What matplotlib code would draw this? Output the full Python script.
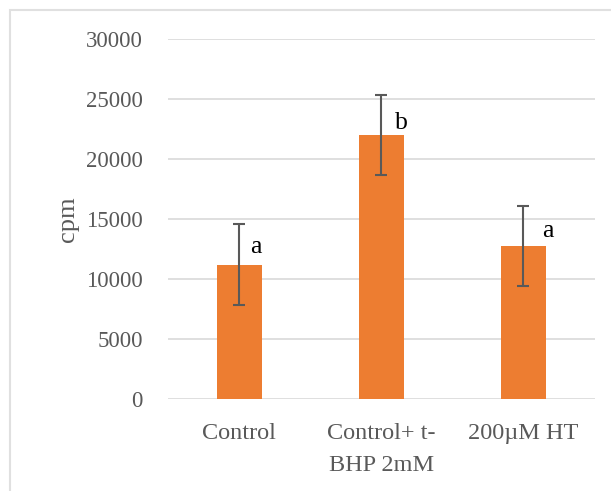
import matplotlib.pyplot as plt
from matplotlib.patches import Rectangle

groups = ["Control", "Control+ t-\nBHP 2mM", "200\u00b5M HT"]
cpm_mean = [11180, 22000, 12750]
cpm_err = [3380, 3370, 3370]
letters = ["a", "b", "a"]
letter_y = [12170, 22500, 13500]
yticks = [0, 5000, 10000, 15000, 20000, 25000, 30000]

plt.rcParams["font.family"] = ["Liberation Serif", "DejaVu Serif"]

fig = plt.figure(figsize=(6.11, 4.91), dpi=100)
W, H = 611, 491
ax = fig.add_axes([168 / W, 1 - 399 / H, (594.5 - 168) / W, (399 - 39) / H])

x = range(len(groups))
ax.bar(x, cpm_mean, width=0.317, color="#ED7D31", zorder=3)
ax.errorbar(x, cpm_mean, yerr=cpm_err, fmt="none", ecolor="#595959",
            elinewidth=1.5, capsize=4.2, capthick=1.5, zorder=4)

# Buchstaben rechts neben den Fehlerbalken
dx = [0.08, 0.095, 0.13]
for i, (lab, yy) in enumerate(zip(letters, letter_y)):
    ax.text(i + dx[i], yy, lab, fontsize=18.5, color="black",
            ha="left", va="baseline", zorder=5)

ax.set_xlim(-0.5, 2.5)
ax.set_ylim(0, 30000)
ax.set_yticks(yticks)
ax.set_yticklabels([str(t) for t in yticks], fontsize=16.5)
ax.set_xticks(list(x))
ax.set_xticklabels(groups, fontsize=17.5, linespacing=1.7)
ax.yaxis.grid(True, color="#D9D9D9", linewidth=1.2, zorder=0)
ax.set_axisbelow(True)
for s in ax.spines.values():
    s.set_visible(False)
ax.tick_params(axis="both", length=0, colors="#595959")
ax.tick_params(axis="y", pad=18)
ax.tick_params(axis="x", pad=17)
for lbl in ax.get_xticklabels():
    lbl.set_verticalalignment("top")

ax.set_ylabel("cpm", fontsize=19, color="#595959", labelpad=5)

# heller Rahmen um das Diagramm
fig.patches.append(Rectangle((9.5 / W, -0.1), 1.2, 1 - 9.5 / H + 0.1,
                             transform=fig.transFigure, fill=False,
                             edgecolor="#E0E0E0", linewidth=1.5))

plt.savefig("out.png", dpi=100)
